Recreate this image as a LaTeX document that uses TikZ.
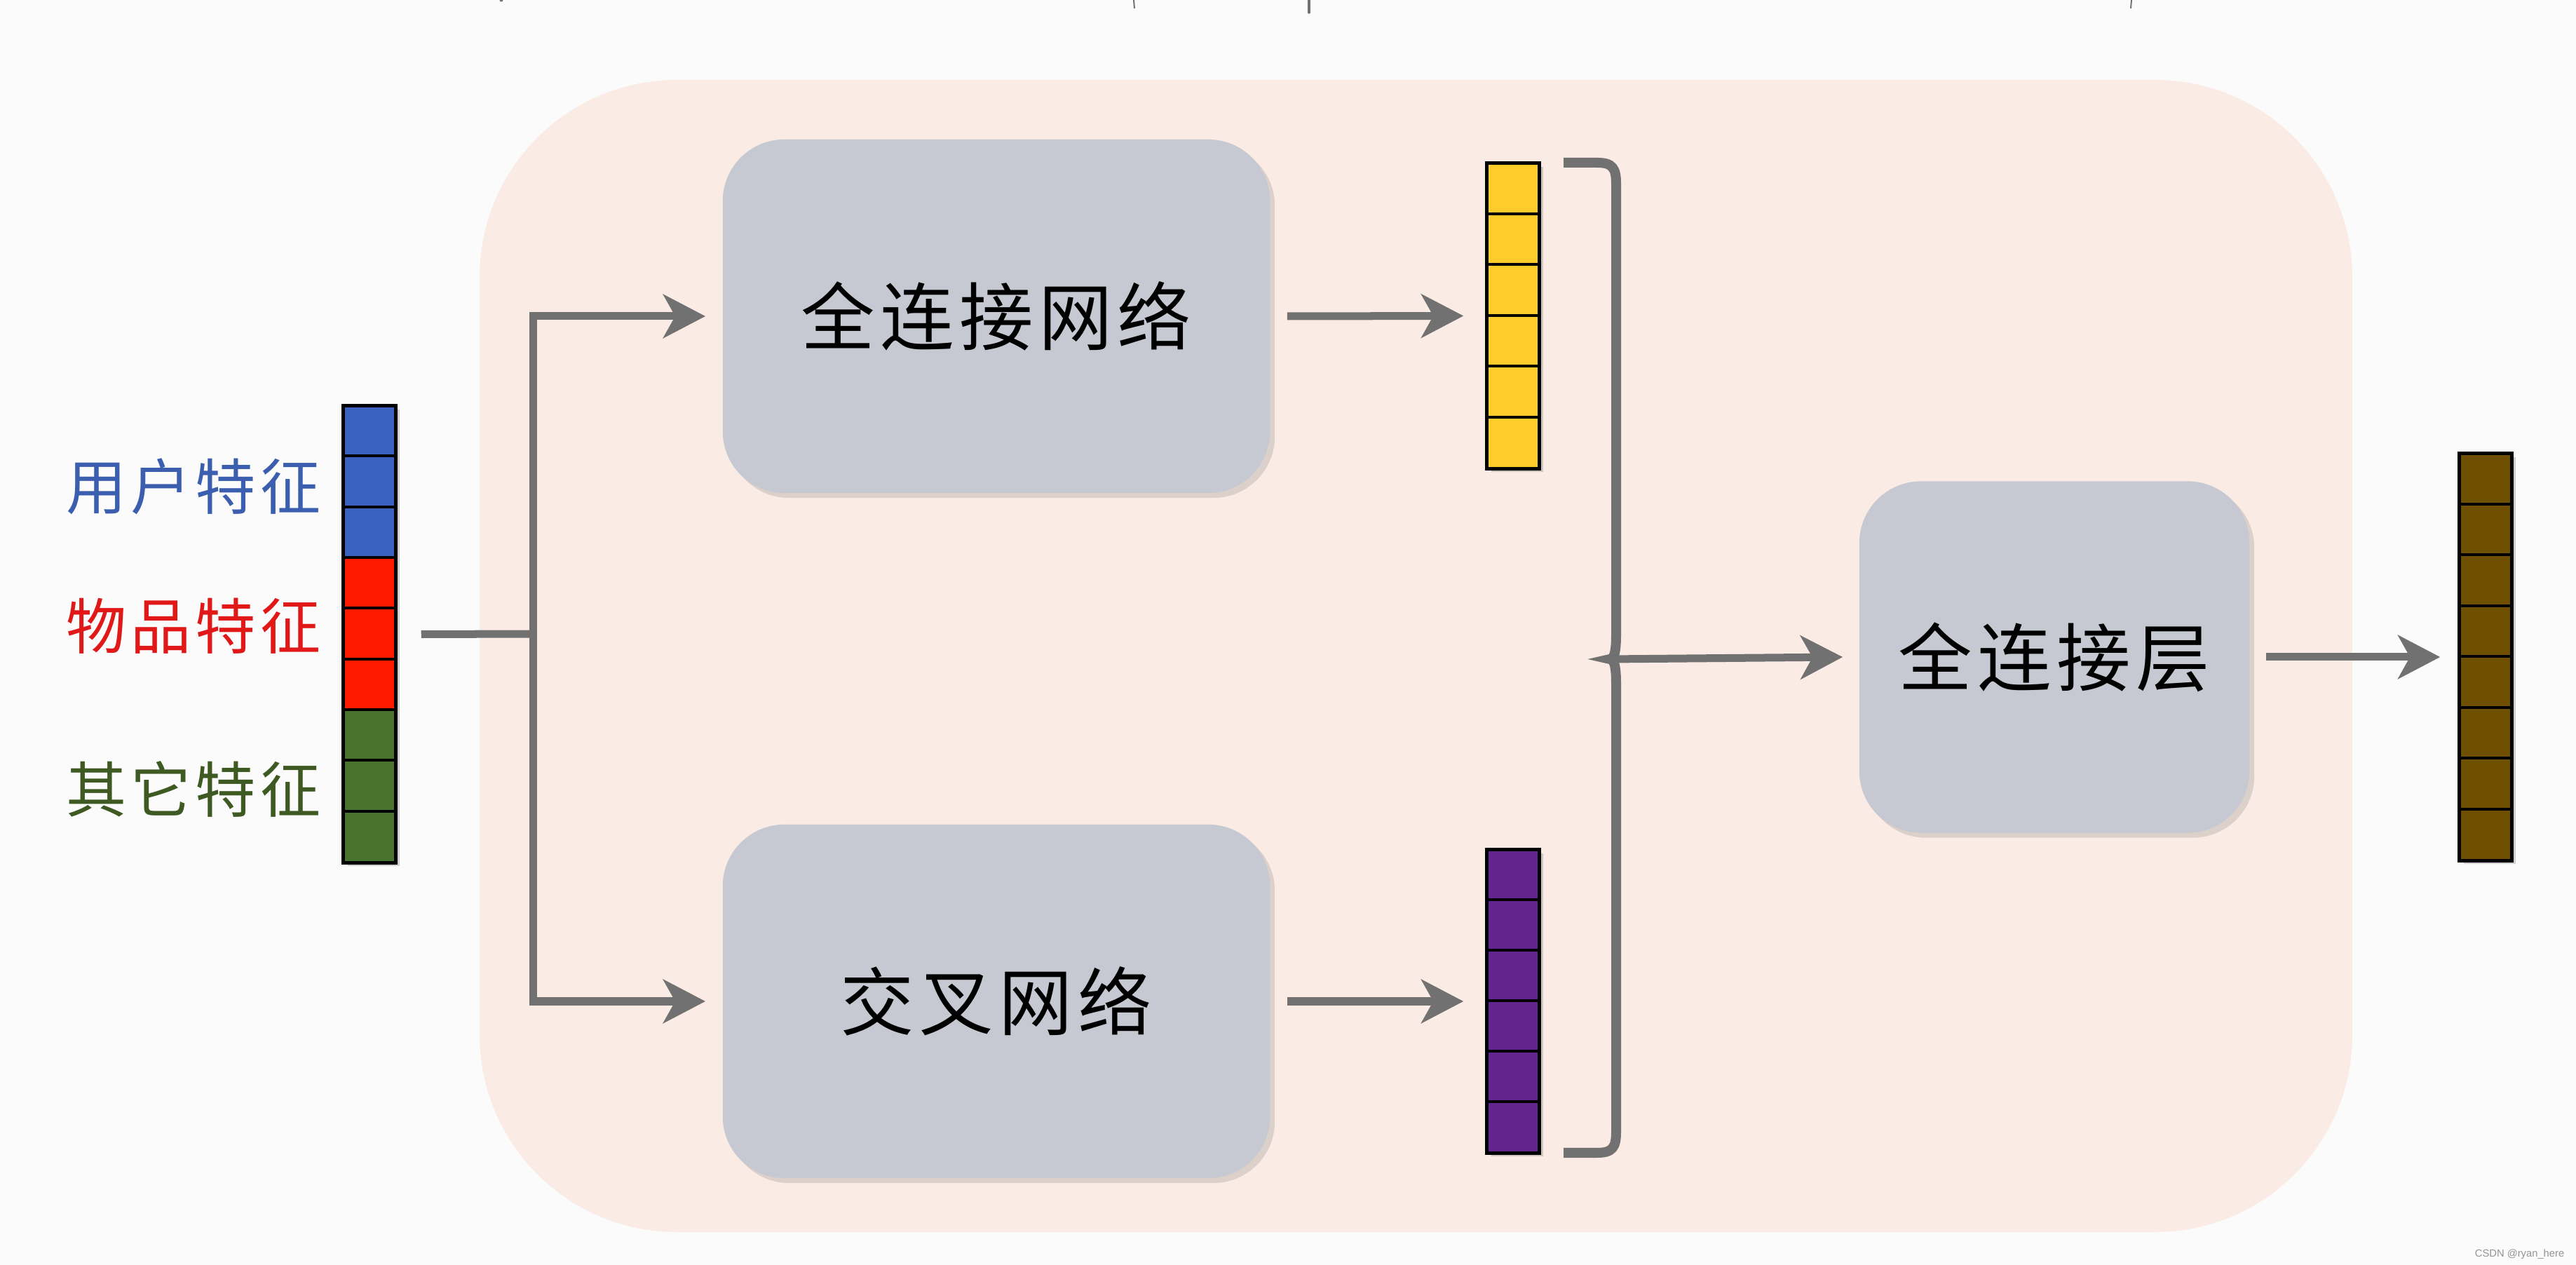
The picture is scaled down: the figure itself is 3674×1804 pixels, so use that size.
\documentclass[tikz,border=0pt]{standalone}
\usepackage{fontspec}
\newfontfamily\cjk{Noto Sans CJK SC}[LetterSpace=7]
\newfontfamily\wmfont{Liberation Sans}
\usetikzlibrary{arrows.meta,shadows,calc}
\definecolor{bgc}{HTML}{FCFBFC}
\definecolor{peach}{HTML}{FAEBE4}
\definecolor{boxc}{HTML}{C6C9D1}
\definecolor{linec}{HTML}{717171}
\definecolor{ublue}{HTML}{3A62BE}
\definecolor{ired}{HTML}{FF1A00}
\definecolor{ogreen}{HTML}{4A7330}
\definecolor{tblue}{HTML}{3B5FAE}
\definecolor{tred}{HTML}{E01818}
\definecolor{tgreen}{HTML}{3E5A22}
\definecolor{yel}{HTML}{FFCC2A}
\definecolor{purp}{HTML}{62258F}
\definecolor{brn}{HTML}{6E5000}
\begin{document}
\begin{tikzpicture}[x=0.01cm,y=-0.01cm,
  conn/.style={draw=linec, line width=0.11cm},
  arr/.style={conn, -{Stealth[length=0.6cm, width=0.62cm, inset=0.17cm]}},
  procbox/.style={fill=boxc, rounded corners=25pt, minimum width=7.8cm, minimum height=5.04cm,
     inner sep=0pt, font=\cjk\fontsize{30}{30}\selectfont,
     drop shadow={shadow xshift=0.07cm, shadow yshift=-0.07cm, opacity=0.25}},
  vecbar/.style={inner sep=0pt, minimum width=0.74cm, fill=white,
     drop shadow={shadow xshift=0.06cm, shadow yshift=-0.05cm, opacity=0.35}},
  celline/.style={draw=black, line width=0.04cm},
  frameline/.style={draw=black, line width=0.05cm},
  lbl/.style={anchor=east, inner sep=0pt, font=\cjk\fontsize{24.5}{25}\selectfont}
]
\fill[bgc] (0,0) rectangle (3674,1804);
\useasboundingbox (0,0) rectangle (3674,1804);

% title fragments at top edge
\draw[linec, line width=0.02cm] (1617,0) -- (1618,12);
\draw[linec, line width=0.035cm, line cap=round] (1867,0) -- (1867,18);
\draw[linec, line width=0.02cm] (3040,0) -- (3039,12);
\fill[linec] (715,0) circle (2.5);

% peach panel
\fill[peach, rounded corners=80pt] (684,114) rectangle (3355,1757);

% processing boxes
\node[procbox] (fcn) at (1421,451) {全连接网络};
\node[procbox] (cross) at (1421,1428) {交叉网络};
\node[procbox, minimum width=5.56cm, minimum height=5.01cm] (fcl) at (2930,937) {全连接层};

% input vector
\node[vecbar, minimum height=6.51cm] (inp) at (527,904.5) {};
\foreach \i/\c in {0/ublue,1/ublue,2/ublue,3/ired,4/ired,5/ired,6/ogreen,7/ogreen,8/ogreen}
  \fill[\c] ($(inp.north west)+(0,\i*72.33)$) rectangle ++(74,72.33);
\foreach \i in {1,...,8}
  \draw[celline] ($(inp.north west)+(0,\i*72.33)$) -- ++(74,0);
\draw[frameline] (inp.north west) rectangle (inp.south east);

% yellow vector
\node[vecbar, minimum height=4.35cm] (yv) at (2158,450.5) {};
\fill[yel] (yv.north west) rectangle (yv.south east);
\foreach \i in {1,...,5}
  \draw[celline] ($(yv.north west)+(0,\i*72.5)$) -- ++(74,0);
\draw[frameline] (yv.north west) rectangle (yv.south east);

% purple vector
\node[vecbar, minimum height=4.32cm] (pv) at (2158,1428) {};
\fill[purp] (pv.north west) rectangle (pv.south east);
\foreach \i in {1,...,5}
  \draw[celline] ($(pv.north west)+(0,\i*72)$) -- ++(74,0);
\draw[frameline] (pv.north west) rectangle (pv.south east);

% output vector
\node[vecbar, minimum height=5.8cm] (ov) at (3545,937) {};
\fill[brn] (ov.north west) rectangle (ov.south east);
\foreach \i in {1,...,7}
  \draw[celline] ($(ov.north west)+(0,\i*72.5)$) -- ++(74,0);
\draw[frameline] (ov.north west) rectangle (ov.south east);

% labels
\node[lbl, text=tblue] (lu) at (458,694) {用户特征};
\node[lbl, text=tred] (li) at (458,893) {物品特征};
\node[lbl, text=tgreen] (lo) at (458,1125) {其它特征};

% connectors
\coordinate (jn) at (760,904);
\draw[conn] ([xshift=0.36cm]inp.east) -- (jn);
\draw[arr] (jn) |- ([xshift=-0.24cm]fcn.west);
\draw[arr] (jn) |- ([xshift=-0.24cm]cross.west);
\draw[arr] ([xshift=0.24cm]fcn.east) -- ([xshift=-0.33cm]yv.west);
\draw[arr] ([xshift=0.24cm]cross.east) -- ([xshift=-0.33cm]pv.west);

% bracket
\coordinate (bc) at (2296,940);
\draw[conn, line width=0.14cm] (2230,232) -- (2278,232) .. controls (2300,232) and (2305,240) .. (2305,262)
  -- (2305,905) .. controls (2305,930) and (2302,940) .. (bc)
  .. controls (2302,940) and (2305,950) .. (2305,975)
  -- (2305,1614) .. controls (2305,1636) and (2300,1644) .. (2278,1644) -- (2230,1644);
\draw[arr] (bc) -- ([xshift=-0.23cm]fcl.west);
\draw[arr] ([xshift=0.23cm]fcl.east) -- ([xshift=-0.27cm]ov.west);

% watermark
\node[anchor=base east, inner sep=0pt, text=black!42, font=\wmfont\fontsize{4.2}{5}\selectfont] (wm) at (3658,1792) {CSDN @ryan\_here};
\end{tikzpicture}
\end{document}
